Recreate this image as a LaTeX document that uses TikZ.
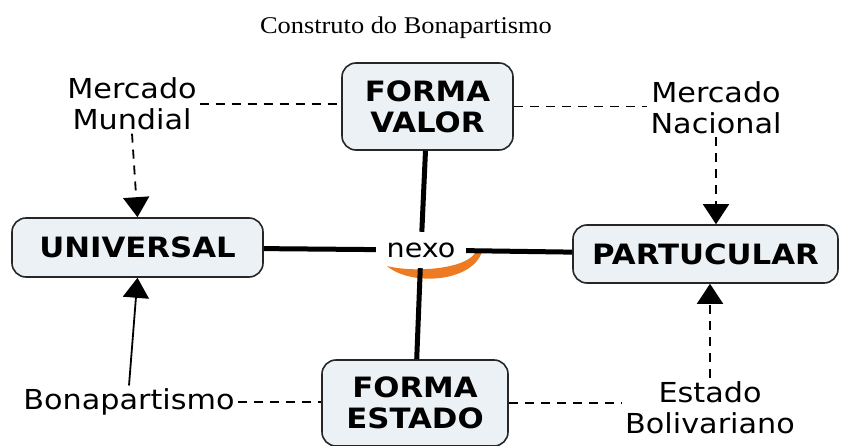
\documentclass[tikz,border=0pt]{standalone}
\usepackage{fontspec}
\setmainfont{Liberation Serif}[FakeStretch=1.1]
\newfontfamily\mapfont{DejaVu Sans}[FakeStretch=1.1]
\usepackage{tikz}
\usetikzlibrary{arrows.meta}
\usepackage{xcolor}
\definecolor{boxfill}{HTML}{EBF1F4}
\definecolor{swoosh}{HTML}{EE7A22}

\begin{document}
\begin{tikzpicture}[x=1pt,y=-1pt,
    concept/.style={draw=black!85, line width=1.6pt, fill=boxfill, rounded corners=14pt, align=center, inner sep=0pt, font=\mapfont\bfseries\fontsize{28}{31}\selectfont},
    term/.style={align=center, inner sep=3pt, font=\mapfont\fontsize{27.5}{31.5}\selectfont},
    link/.style={line width=5pt},
    dashlink/.style={line width=1.8pt, dash pattern=on 9pt off 7pt},
    tip/.style={-{Triangle[width=26pt,length=20pt]}}]
            \useasboundingbox (0,0) rectangle (843,446);
            \node[font=\fontsize{24}{28}\selectfont] (title) at (406,28) {Construto do Bonapartismo};
            \node[concept, minimum width=171pt, minimum height=87pt] (valor) at (427.5,106.5) {FORMA\\VALOR};
            \node[concept, minimum width=251pt, minimum height=59pt] (universal) at (137.5,247.5) {UNIVERSAL};
            \node[concept, minimum width=265pt, minimum height=58pt] (partucular) at (705.5,254) {PARTUCULAR};
            \node[concept, minimum width=186pt, minimum height=86pt] (estado) at (415,403) {FORMA\\ESTADO};
            \node[term, font=\mapfont\fontsize{26}{28}\selectfont, minimum width=90pt, minimum height=36pt] (nexo) at (421,250) {nexo};
            \node[term] (mundial) at (132,104) {Mercado\\Mundial};
            \node[term] (nacional) at (716,107.5) {Mercado\\Nacional};
            \node[term] (bona) at (129,402) {Bonapartismo};
            \node[term] (bolivar) at (710,407.5) {Estado\\Bolivariano};
            \begin{scope}[shift={(nexo.center)}]
                \fill[swoosh] (-34,16) .. controls (-11,36) and (50,33) .. (61,2)
                    -- (54,3) .. controls (44,19) and (-6,23) .. (-34,16) -- cycle;
            \end{scope}
            \foreach \a/\b in {valor/nexo, universal/nexo, nexo/partucular, nexo/estado}
            {
                \draw[link] (\a) -- (\b);
            }
            \draw[dashlink] (mundial.east) -- (mundial.east -| valor.west);
            \draw[dashlink] (valor.east) -- (valor.east -| nacional.west);
            \draw[dashlink] (bona.east) -- (bona.east -| estado.west);
            \draw[dashlink] (estado.east) -- (estado.east -| bolivar.west);
            \draw[dashlink, tip] (mundial.south) -- (universal.north);
            \draw[dashlink, tip] (nacional.south) -- (nacional.south |- partucular.north);
            \draw[dashlink, tip] (bolivar.north) -- (bolivar.north |- partucular.south);
            \draw[line width=1.8pt, tip] (bona.north) -- (universal.south);
        \end{tikzpicture}
\end{document}
